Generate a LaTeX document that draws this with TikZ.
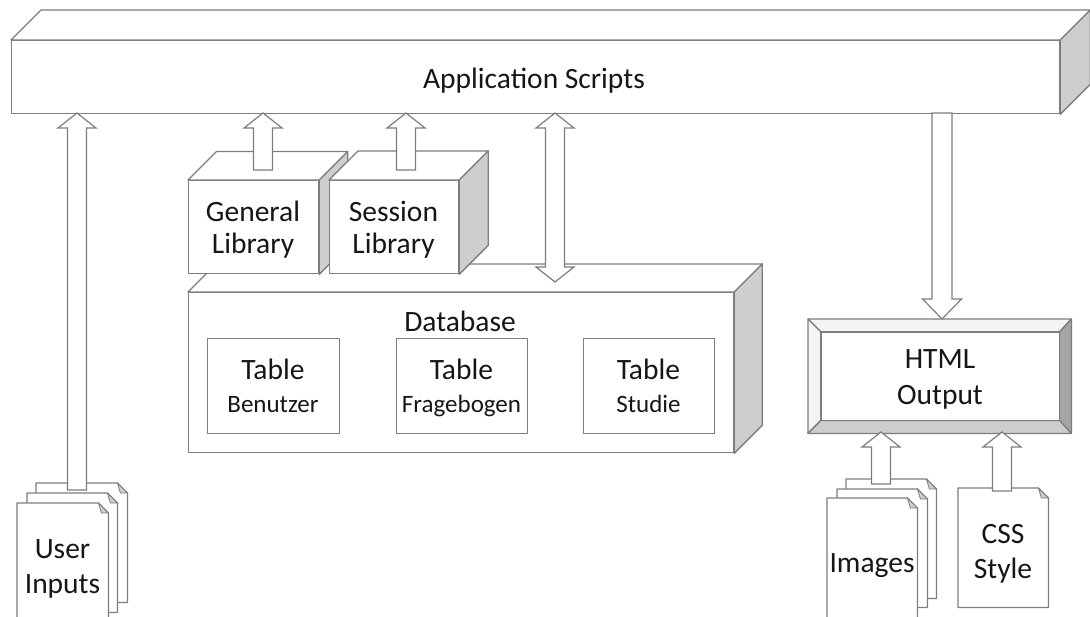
\documentclass[tikz,border=0pt]{standalone}
\usepackage{fontspec}
\setmainfont{Carlito}
\usetikzlibrary{calc}
\definecolor{edge}{RGB}{125,125,125}
\definecolor{side}{RGB}{206,206,206}
\definecolor{dside}{RGB}{166,166,166}
\definecolor{lside}{RGB}{244,244,244}
\definecolor{txt}{RGB}{22,22,22}
\tikzset{
  face/.style={draw=edge, line width=1.3pt, fill=white, line join=round},
  sideface/.style={face, fill=side},
  frontbox/.style={face, inner sep=0pt, anchor=north west},
  hidebox/.style={inner sep=0pt, anchor=north west},
  lbl/.style={font=\fontsize{29.5}{35}\selectfont, text=txt, inner sep=0pt, anchor=base},
  sublbl/.style={font=\fontsize{25}{30}\selectfont, text=txt, inner sep=0pt, anchor=base},
  blk/.style={draw=edge, line width=1.2pt, fill=white, line join=miter},
}
% top and side faces of a cuboid whose front face is node #1, depth #2
\newcommand\cubefaces[2]{%
  \draw[face] (#1.north west) -- ++(#2pt,#2pt) -- ($(#1.north east)+(#2pt,#2pt)$) -- (#1.north east) -- cycle;
  \draw[sideface] (#1.north east) -- ++(#2pt,#2pt) -- ($(#1.south east)+(#2pt,#2pt)$) -- (#1.south east) -- cycle;}
% document page with folded corner
\newcommand\docshape[1]{%
  \draw[face] (#1.north west) -- ($(#1.north east)+(-10pt,0pt)$) -- ($(#1.north east)+(0pt,-10pt)$) -- (#1.south east) -- (#1.south west) -- cycle;
  \draw[face, fill=side, line width=0.8pt] ($(#1.north east)+(-10pt,0pt)$) -- ($(#1.north east)+(-7pt,-10pt)$) -- ($(#1.north east)+(0pt,-10pt)$) -- cycle;}
% block arrows from #1 (tail) to #2 (tip); #3 head length
\newcommand\uparr[3]{%
  \draw[blk] let \p1=(#1), \p2=(#2) in
   (\x1-9.5pt,\y1) -- (\x1-9.5pt,\y2-#3pt) -- (\x1-19pt,\y2-#3pt) -- (\x1,\y2) -- (\x1+19pt,\y2-#3pt) -- (\x1+9.5pt,\y2-#3pt) -- (\x1+9.5pt,\y1) -- cycle;}
\newcommand\downarr[3]{%
  \draw[blk] let \p1=(#1), \p2=(#2) in
   (\x1-10pt,\y1) -- (\x1-10pt,\y2+#3pt) -- (\x1-19.5pt,\y2+#3pt) -- (\x1,\y2) -- (\x1+19.5pt,\y2+#3pt) -- (\x1+10pt,\y2+#3pt) -- (\x1+10pt,\y1) -- cycle;}
\newcommand\dblarr[3]{%
  \draw[blk] let \p1=(#1), \p2=(#2) in
   (\x2,\y2) -- (\x2+19pt,\y2-#3pt) -- (\x2+9.5pt,\y2-#3pt) -- (\x2+9.5pt,\y1+#3pt) -- (\x2+19pt,\y1+#3pt) -- (\x1,\y1)
   -- (\x1-19pt,\y1+#3pt) -- (\x1-9.5pt,\y1+#3pt) -- (\x1-9.5pt,\y2-#3pt) -- (\x2-19pt,\y2-#3pt) -- cycle;}
\begin{document}
\begin{tikzpicture}[x=1pt,y=-1pt]
\useasboundingbox (0,0) rectangle (1090,616);
\clip (0,0) rectangle (1090,616);

% Application Scripts
\node[frontbox, minimum width=1048pt, minimum height=73pt] (app) at (11,40) {};
\cubefaces{app}{30}
\node[lbl] (applbl) at (534,88) {Application Scripts};

% Database
\node[frontbox, minimum width=545pt, minimum height=160pt] (db) at (188,292) {};
\cubefaces{db}{28}
\node[lbl] (dblbl) at (460,331) {Database};
\node[frontbox, minimum width=132pt, minimum height=95pt] (tb1) at (207,338) {};
\node[frontbox, minimum width=131pt, minimum height=95pt] (tb2) at (396,338) {};
\node[frontbox, minimum width=131pt, minimum height=95pt] (tb3) at (583,338) {};
\node[lbl] (tb1a) at (273,379) {Table};
\node[sublbl] (tb1b) at (273,412) {Benutzer};
\node[lbl] (tb2a) at (461.5,379) {Table};
\node[sublbl] (tb2b) at (461.5,412) {Fragebogen};
\node[lbl] (tb3a) at (648.5,379) {Table};
\node[sublbl] (tb3b) at (648.5,412) {Studie};

% Libraries
\node[frontbox, minimum width=130pt, minimum height=93pt] (gen) at (188,180) {};
\cubefaces{gen}{28.5}
\node[lbl] (gena) at (253,221) {General};
\node[lbl] (genb) at (253,253) {Library};
\node[frontbox, minimum width=129pt, minimum height=93pt] (ses) at (329,180) {};
\cubefaces{ses}{29}
\node[lbl] (sesa) at (393.5,221) {Session};
\node[lbl] (sesb) at (393.5,253) {Library};

% HTML Output (bevel frame)
\node[hidebox, minimum width=263pt, minimum height=114pt] (html) at (808,319) {};
\node[hidebox, minimum width=238pt, minimum height=88pt] (htmlin) at (821,332) {};
\draw[face, fill=lside] (html.north west) -- (html.north east) -- (htmlin.north east) -- (htmlin.north west) -- cycle;
\draw[face, fill=lside] (html.north west) -- (htmlin.north west) -- (htmlin.south west) -- (html.south west) -- cycle;
\draw[face, fill=dside] (html.north east) -- (html.south east) -- (htmlin.south east) -- (htmlin.north east) -- cycle;
\draw[face, fill=side] (html.south west) -- (html.south east) -- (htmlin.south east) -- (htmlin.south west) -- cycle;
\draw[face] (htmlin.north west) rectangle (htmlin.south east);
\node[lbl] (htmla) at (940,368) {HTML};
\node[lbl] (htmlb) at (940,404) {Output};

% User Inputs pages
\node[hidebox, minimum width=91pt, minimum height=119pt] (ui3) at (36,483) {};
\node[hidebox, minimum width=90pt, minimum height=119pt] (ui2) at (27,493) {};
\node[hidebox, minimum width=91pt, minimum height=130pt] (ui1) at (17,503) {};
\docshape{ui3}
\docshape{ui2}
\docshape{ui1}
\node[lbl] (uia) at (62.5,558) {User};
\node[lbl] (uib) at (62.5,593) {Inputs};

% Images pages
\node[hidebox, minimum width=90pt, minimum height=119pt] (im3) at (846,479) {};
\node[hidebox, minimum width=90pt, minimum height=118pt] (im2) at (837,489) {};
\node[hidebox, minimum width=90pt, minimum height=130pt] (im1) at (827,498) {};
\docshape{im3}
\docshape{im2}
\docshape{im1}
\node[lbl] (imlbl) at (872,572) {Images};

% CSS page
\node[hidebox, minimum width=90pt, minimum height=119pt] (css) at (958,488) {};
\docshape{css}
\node[lbl] (cssa) at (1003,543) {CSS};
\node[lbl] (cssb) at (1003,578) {Style};

% arrow ends
\coordinate (uA) at (77,490);   \coordinate (uB) at (77,113);
\coordinate (gA) at (263,170);  \coordinate (gB) at (263,113);
\coordinate (sA) at (406,170);  \coordinate (sB) at (406,113);
\coordinate (dA) at (555,282);  \coordinate (dB) at (555,113);
\coordinate (hA) at (942,113);  \coordinate (hB) at (942,319);
\coordinate (iA) at (881,484);  \coordinate (iB) at (881,432);
\coordinate (cA) at (1002,491); \coordinate (cB) at (1002,432);

\uparr{uA}{uB}{15}
\uparr{gA}{gB}{15}
\uparr{sA}{sB}{15}
\dblarr{dA}{dB}{15}
\downarr{hA}{hB}{20}
\uparr{iA}{iB}{15}
\uparr{cA}{cB}{15}
\end{tikzpicture}
\end{document}
